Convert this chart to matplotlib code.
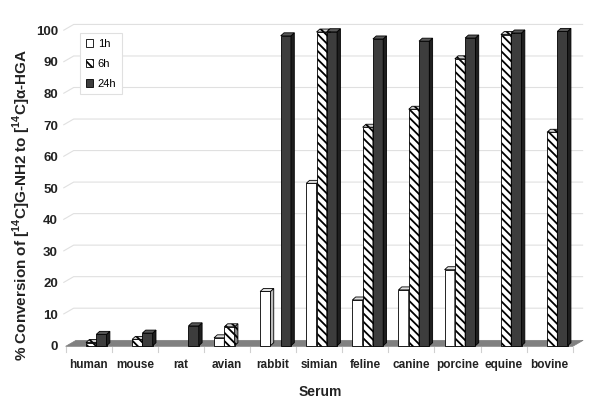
import matplotlib
matplotlib.use('Agg')
import matplotlib.pyplot as plt
from matplotlib.patches import Polygon, Patch

plt.rcParams['font.family'] = ['Liberation Sans', 'DejaVu Sans']
plt.rcParams['mathtext.fontset'] = 'custom'
plt.rcParams['mathtext.rm'] = 'Liberation Sans'
plt.rcParams['mathtext.bf'] = 'Liberation Sans:bold'
plt.rcParams['hatch.linewidth'] = 1.3

categories = ['human', 'mouse', 'rat', 'avian', 'rabbit', 'simian', 'feline',
              'canine', 'porcine', 'equine', 'bovine']
series_names = ['1h', '6h', '24h']
h1 = [0, 0, 0, 2.5, 17.2, 51.5, 14.5, 17.7, 24.1, 0, 0]
h6 = [1.0, 2.0, 0, 6.0, 0, 99.5, 69.3, 75.0, 91.0, 98.7, 67.7]
h24 = [3.6, 4.0, 6.3, 0, 98.3, 99.6, 97.3, 96.6, 97.6, 99.2, 99.7]
yticks = [0, 10, 20, 30, 40, 50, 60, 70, 80, 90, 100]

series = [h1, h6, h24]

fig = plt.figure(figsize=(6.0, 4.07), dpi=100)
ax = fig.add_axes([60/600, 1 - 355/407, 530/600, 340/407])
ax.set_xlim(-0.6215, 10.874)
ax.set_ylim(-2.95, 104.9)
for s in ax.spines.values():
    s.set_visible(False)

# depth offsets (style)
GDX, GDY = 0.225, 1.9     # wall/floor depth
W, DX, DY = 0.223, 0.072, 0.95  # bar width and bar depth
n = len(categories)

# gridlines (back wall with left diagonal)
for v in yticks[1:]:
    ax.plot([-0.55, -0.55 + GDX, n - 0.5 + GDX], [v, v + GDY, v + GDY],
            color='#e0e0e0', lw=0.8, zorder=1, solid_capstyle='butt')

# floor
floor = Polygon([(-0.5, -0.2), (n - 0.5, -0.2), (n - 0.5 + GDX, -0.2 + GDY),
                 (-0.5 + GDX, -0.2 + GDY)], closed=True, facecolor='#808080',
                edgecolor='#808080', lw=0.5, zorder=2)
ax.add_patch(floor)

# category tick marks under the floor
for b in range(n + 1):
    ax.plot([b - 0.5, b - 0.5], [-0.4, -2.0], color='#d0d0d0', lw=0.8, zorder=1)

styles = [
    dict(front='white', side='#bdbdbd', top='#dedede', hatch=None),
    dict(front='white', side='#8a8a8a', top='#cfcfcf', hatch='\\\\\\\\'),
    dict(front='#3d3d3d', side='#1f1f1f', top='#585858', hatch=None),
]

for k, vals in enumerate(series):
    st = styles[k]
    xs = [i + 0.054 + (k - 1.5) * W for i in range(n)]
    bars = ax.bar(xs, vals, width=W, align='edge', color=st['front'],
                  edgecolor='black', linewidth=0.6, hatch=st['hatch'])
    for i, (bar, v) in enumerate(zip(bars, vals)):
        z = 10 + i * 4 + k
        bar.set_zorder(z)
        if v <= 0:
            bar.set_visible(False)
            continue
        x0 = xs[i]
        x1 = x0 + W
        side = Polygon([(x1, 0), (x1 + DX, DY), (x1 + DX, v + DY), (x1, v)],
                       closed=True, facecolor=st['side'], edgecolor='black',
                       lw=0.6, hatch=st['hatch'], zorder=z)
        top = Polygon([(x0, v), (x1, v), (x1 + DX, v + DY), (x0 + DX, v + DY)],
                      closed=True, facecolor=st['top'], edgecolor='black',
                      lw=0.6, hatch=st['hatch'], zorder=z)
        ax.add_patch(side)
        ax.add_patch(top)

ax.set_xticks(range(n))
ax.set_xticklabels(categories, fontsize=8.5, fontweight='bold', color='#222222')
ax.set_yticks(yticks)
ax.set_yticklabels([str(t) for t in yticks], fontsize=9.5, fontweight='bold',
                   color='#222222')
ax.tick_params(axis='both', length=0)
ax.tick_params(axis='x', pad=3)
ax.tick_params(axis='y', pad=1.5)

fig.text(22/600, 1 - 205/407,
         '% Conversion of [$^{\\mathbf{14}}$C]G-NH2 to [$^{\\mathbf{14}}$C]\u03b1-HGA',
         rotation=90, ha='center', va='center', fontsize=11, fontweight='bold',
         color='#222222')
fig.text(320/600, 1 - 392/407, 'Serum', ha='center', va='center',
         fontsize=10, fontweight='bold', color='#222222')

handles = [Patch(facecolor=s['front'], edgecolor='black', lw=0.6, hatch=s['hatch'])
           for s in styles]
leg = ax.legend(handles, series_names, loc='upper left',
                bbox_to_anchor=((80 - 60) / 530, 1 - (33 - 15) / 340),
                borderaxespad=0, fontsize=8, handlelength=0.7, handleheight=0.7,
                handletextpad=0.4, labelspacing=0.9, borderpad=0.5,
                fancybox=False, framealpha=1)
leg.get_frame().set_edgecolor('#e0e0e0')
leg.get_frame().set_linewidth(0.8)
leg.set_zorder(100)

fig.savefig('out.png', dpi=100)
